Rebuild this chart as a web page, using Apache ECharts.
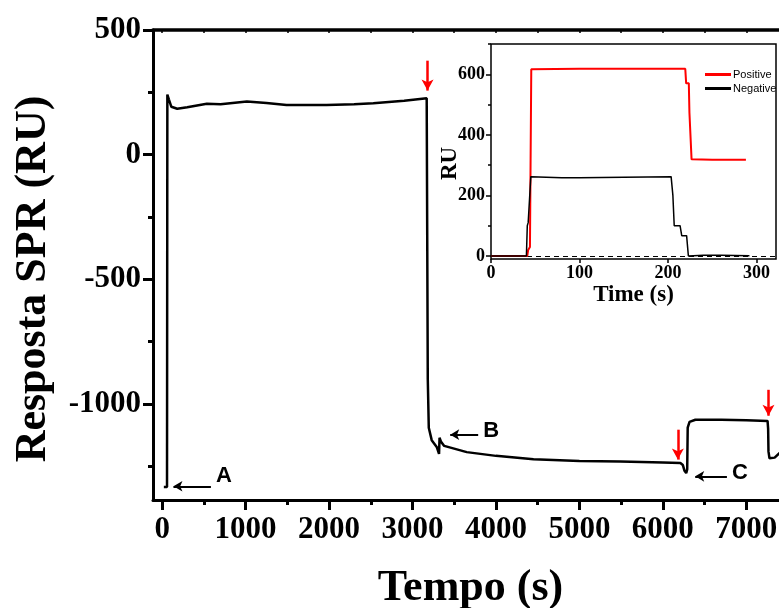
<!DOCTYPE html>
<html>
<head>
<meta charset="utf-8">
<script src="https://cdn.jsdelivr.net/npm/echarts@6/dist/echarts.min.js"></script>
<style>
  html, body { margin: 0; padding: 0; background: #fff; }
  #chart { width: 779px; height: 608px; }
</style>
</head>
<body>
<div id="chart"></div>
<script>
// SPR sensorgram (main trace): time in s, response in RU
const mainTime = [20, 58, 62, 80, 110, 180, 300, 535, 700, 1015, 1250, 1490, 1970, 2300, 2530, 2900, 3170,
  3178, 3183, 3195, 3230, 3290, 3318, 3324, 3340, 3380, 3650, 4000, 4450, 5000, 5490, 6000, 6210,
  6240, 6260, 6280, 6292, 6298, 6320, 6390, 6700, 7000, 7255, 7262, 7266, 7278, 7300, 7340, 7400, 7460];
const mainResp = [-1333, -1333, 241, 222, 192, 184, 190, 204, 202, 213, 207, 199, 199, 202, 206, 216, 226,
  220, -900, -1095, -1145, -1172, -1200, -1135, -1150, -1168, -1193, -1208, -1222, -1229, -1231, -1235, -1237,
  -1245, -1268, -1277, -1262, -1095, -1072, -1063, -1063, -1065, -1068, -1100, -1190, -1218, -1225, -1215, -1196, -1190];

// Inset: positive and negative controls
const posTime = [0, 41, 42, 44, 45, 45.5, 100, 150, 219.5, 220.5, 223.5, 224.2, 225.5, 226.6, 250, 288];
const posRU   = [0, 0, 20, 30, 30, 617, 618, 618, 618, 570, 570, 473, 473, 319, 318, 318];
const negTime = [0, 40, 41, 42, 45, 80, 100, 150, 203.5, 205.5, 206, 207, 213.6, 215.5, 221, 223, 240, 260, 292];
const negRU   = [0, 0, 100, 110, 262, 258, 258, 260, 262, 200, 200, 100, 100, 67, 67, 0, 2, 2, 1];

// Tick values
const mainXTicks = [0, 1000, 2000, 3000, 4000, 5000, 6000, 7000];
const mainXMinor = [500, 1500, 2500, 3500, 4500, 5500, 6500, 7500];
const mainYTicks = [-1000, -500, 0, 500];
const mainYMinor = [-1250, -750, -250, 250];
const insetXTicks = [0, 100, 200, 300];
const insetXTop = [50, 100, 150, 200, 250, 300];
const insetYTicks = [0, 200, 400, 600];
const insetYMinor = [100, 300, 500, 700];

// Annotations: injection arrows (red) and labelled markers (A, B, C)
const injectionTimes = [3180, 6180, 7266];
const injectionFrom = [377, -1103, -943];
const injectionTo = [257, -1223, -1047];
const markerNames = ['A', 'B', 'C'];
const markerTail = [584, 3787, 6768];
const markerHead = [135, 3452, 6388];
const markerLevel = [-1330, -1123, -1290];
// how far (px) each marker letter sits above its arrow
const markerLift = [10, 4, 3];

const zip = (a, b) => a.map((v, i) => [v, b[i]]);
const plain = (v) => String(v);

const serif = 'Liberation Serif';
const sans = 'Liberation Sans';

const markLines = [];
injectionTimes.forEach((t, i) => {
  markLines.push([
    { coord: [t, injectionFrom[i]], symbol: 'none',
      lineStyle: { color: '#ff0000', width: 2.5, type: 'solid' }, label: { show: false } },
    { coord: [t, injectionTo[i]], symbol: 'arrow', symbolSize: [9, 11] }
  ]);
});
markerNames.forEach((n, i) => {
  markLines.push([
    { coord: [markerTail[i], markerLevel[i]], symbol: 'none', name: n,
      lineStyle: { color: '#000', width: 2, type: 'solid' },
      label: { show: true, position: 'start', formatter: n, distance: 5,
               offset: [0, -markerLift[i]],
               color: '#000', fontFamily: sans, fontWeight: 'bold', fontSize: 22 } },
    { coord: [markerHead[i], markerLevel[i]], symbol: 'arrow', symbolSize: [8, 9] }
  ]);
});

const chart = echarts.init(document.getElementById('chart'), null, { renderer: 'canvas' });

const hiddenLine = { show: false, onZero: false };

chart.setOption({
  animation: false,
  backgroundColor: '#fff',
  grid: [
    { left: 153, top: 30, width: 635, bottom: 108, outerBoundsMode: 'none', containLabel: false },
    { left: 491, top: 44, right: 3, bottom: 349, outerBoundsMode: 'none', containLabel: false,
      show: true, backgroundColor: '#fff', borderColor: '#000', borderWidth: 1.5, z: 5 }
  ],
  legend: {
    left: 700, top: 64, orient: 'vertical', itemGap: 3,
    itemWidth: 26, itemHeight: 3, icon: 'rect',
    textStyle: { fontFamily: sans, fontSize: 11, color: '#000', padding: [0, 0, 0, -3] },
    data: ['Positive', 'Negative'], z: 10
  },
  xAxis: [
    {
      type: 'value', gridIndex: 0, min: -110, max: 7500, position: 'bottom', splitLine: { show: false },
      axisLine: { show: true, onZero: false, lineStyle: { color: '#000', width: 3 } },
      axisTick: { show: true, customValues: mainXTicks, length: 10, lineStyle: { color: '#000', width: 3 } },
      axisLabel: { show: true, customValues: mainXTicks, formatter: plain, margin: 14, color: '#000',
                   fontFamily: serif, fontWeight: 'bold', fontSize: 31 },
      name: 'Tempo (s)', nameLocation: 'middle', nameGap: 67, nameMoveOverlap: false,
      nameTextStyle: { color: '#000', fontFamily: serif, fontWeight: 'bold', fontSize: 44 }
    },
    {
      type: 'value', gridIndex: 0, min: -110, max: 7500, position: 'bottom', splitLine: { show: false },
      axisLine: hiddenLine, axisLabel: { show: false },
      axisTick: { show: true, customValues: mainXMinor, length: 5, lineStyle: { color: '#000', width: 3 } }
    },
    {
      type: 'value', gridIndex: 0, min: -110, max: 7500, position: 'top', splitLine: { show: false },
      axisLine: { show: true, onZero: false, lineStyle: { color: '#000', width: 3.5 } },
      axisLabel: { show: false },
      axisTick: { show: true, inside: true, customValues: mainXTicks.concat(mainXMinor), length: 3,
                  lineStyle: { color: '#000', width: 1.5 } }
    },
    {
      type: 'value', gridIndex: 1, min: 0, max: 322, position: 'bottom', splitLine: { show: false },
      axisLine: hiddenLine,
      axisTick: { show: true, customValues: insetXTicks, length: 4, lineStyle: { color: '#000', width: 1.5 } },
      axisLabel: { show: true, customValues: insetXTicks, formatter: plain, margin: 5, color: '#000',
                   fontFamily: serif, fontWeight: 'bold', fontSize: 18 },
      name: 'Time (s)', nameLocation: 'middle', nameGap: 25, nameMoveOverlap: false,
      nameTextStyle: { color: '#000', fontFamily: serif, fontWeight: 'bold', fontSize: 23 }
    },
    {
      type: 'value', gridIndex: 1, min: 0, max: 322, position: 'top', splitLine: { show: false },
      axisLine: hiddenLine, axisLabel: { show: false },
      axisTick: { show: true, inside: true, customValues: insetXTop, length: 3, lineStyle: { color: '#000', width: 1 } }
    }
  ],
  yAxis: [
    {
      type: 'value', gridIndex: 0, min: -1385, max: 500, position: 'left', splitLine: { show: false },
      axisLine: { show: true, onZero: false, lineStyle: { color: '#000', width: 3 } },
      axisTick: { show: true, customValues: mainYTicks, length: 10, lineStyle: { color: '#000', width: 3 } },
      axisLabel: { show: true, customValues: mainYTicks, formatter: plain, margin: 12, color: '#000',
                   fontFamily: serif, fontWeight: 'bold', fontSize: 31 },
      name: 'Resposta SPR (RU)', nameLocation: 'middle', nameGap: 97, nameRotate: 90, nameMoveOverlap: false,
      nameTextStyle: { color: '#000', fontFamily: serif, fontWeight: 'bold', fontSize: 44,
                       padding: [0, 28, 0, 0] }
    },
    {
      type: 'value', gridIndex: 0, min: -1385, max: 500, position: 'left', splitLine: { show: false },
      axisLine: hiddenLine, axisLabel: { show: false },
      axisTick: { show: true, customValues: mainYMinor, length: 5, lineStyle: { color: '#000', width: 3 } }
    },
    {
      type: 'value', gridIndex: 1, min: -10, max: 700, position: 'left', splitLine: { show: false },
      axisLine: hiddenLine,
      axisTick: { show: true, customValues: insetYTicks, length: 5, lineStyle: { color: '#000', width: 1.5 } },
      axisLabel: { show: true, customValues: insetYTicks, formatter: plain, margin: 6, color: '#000',
                   fontFamily: serif, fontWeight: 'bold', fontSize: 18 },
      name: 'RU', nameLocation: 'middle', nameGap: 29, nameRotate: 90, nameMoveOverlap: false,
      nameTextStyle: { color: '#000', fontFamily: serif, fontWeight: 'bold', fontSize: 23,
                       padding: [0, 24, 0, 0] }
    },
    {
      type: 'value', gridIndex: 1, min: -10, max: 700, position: 'left', splitLine: { show: false },
      axisLine: hiddenLine, axisLabel: { show: false },
      axisTick: { show: true, customValues: insetYMinor, length: 3, lineStyle: { color: '#000', width: 1.5 } }
    }
  ],
  series: [
    {
      name: 'Sensorgram', type: 'line', xAxisIndex: 0, yAxisIndex: 0,
      data: zip(mainTime, mainResp), showSymbol: false, smooth: false,
      lineStyle: { color: '#000', width: 2.5 },
      markLine: { silent: true, animation: false, data: markLines }
    },
    {
      name: 'Positive', type: 'line', xAxisIndex: 3, yAxisIndex: 2, z: 6,
      data: zip(posTime, posRU), showSymbol: false, color: '#ff0000',
      lineStyle: { color: '#ff0000', width: 2 }
    },
    {
      name: 'Negative', type: 'line', xAxisIndex: 3, yAxisIndex: 2, z: 7,
      data: zip(negTime, negRU), showSymbol: false, color: '#000',
      lineStyle: { color: '#000', width: 1.5 },
      markLine: {
        silent: true, symbol: 'none', label: { show: false },
        lineStyle: { color: '#000', type: [5, 4], width: 1.2 },
        data: [[{ coord: [0, 0] }, { coord: [322, 0] }]]
      }
    }
  ]
});
</script>
</body>
</html>
